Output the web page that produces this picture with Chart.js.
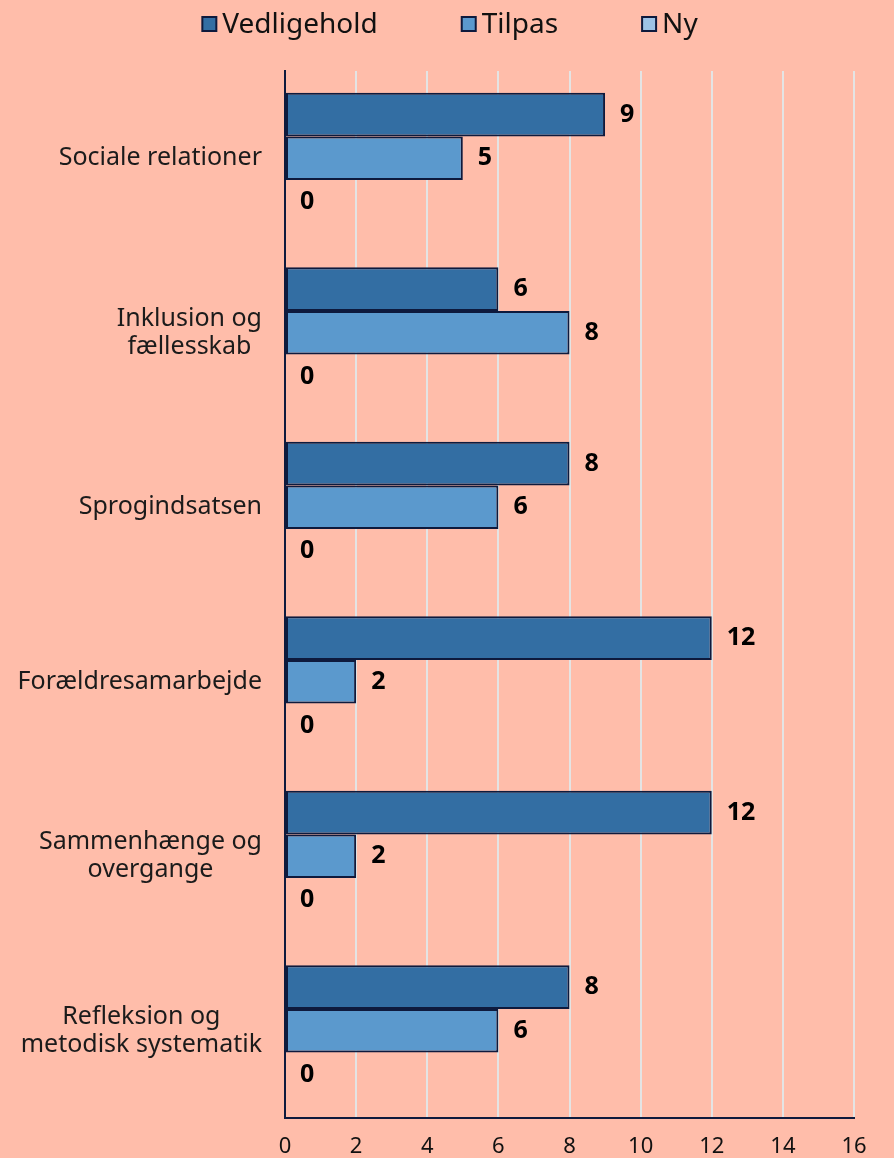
<!DOCTYPE html>
<html>
<head>
<meta charset="utf-8">
<script src="https://cdn.jsdelivr.net/npm/chart.js@4.4.0/dist/chart.umd.min.js"></script>
<style>
  html, body { margin: 0; padding: 0; background: #FFBDAA; }
  #wrap { width: 894px; height: 1158px; }
</style>
</head>
<body>
<div id="wrap"><canvas id="chart" width="894" height="1158"></canvas></div>
<script>
const categories = [
  ["Sociale relationer"],
  ["Inklusion og", "fællesskab"],
  ["Sprogindsatsen"],
  ["Forældresamarbejde"],
  ["Sammenhænge og", "overgange"],
  ["Refleksion og", "metodisk systematik"]
]
const vedligehold = [9, 6, 8, 12, 12, 8]
const tilpas = [5, 8, 6, 2, 2, 6]
const ny = [0, 0, 0, 0, 0, 0]
const xTicks = [0, 2, 4, 6, 8, 10, 12, 14, 16]

const FONT = "'Noto Sans', Lato, sans-serif"
const EDGE = "#0E1A3D"

// category labels: lines centred on each other, block right aligned (like the original)
const catLabels = {
  id: "catLabels",
  afterDraw(c) {
    const ctx = c.ctx
    const y = c.scales.y
    ctx.save()
    ctx.font = "25px " + FONT
    ctx.fillStyle = "#1b1b1b"
    ctx.textAlign = "center"
    ctx.textBaseline = "middle"
    const lh = 28
    categories.forEach((lines, i) => {
      const cy = y.getPixelForValue(i)
      const w = Math.max(...lines.map(l => ctx.measureText(l).width))
      const cx = 262 - w / 2
      lines.forEach((l, k) => {
        ctx.fillText(l, cx, cy + (k - (lines.length - 1) / 2) * lh)
      })
    })
    ctx.restore()
  }
}

// legend drawn by hand so the row can sit close to the top
const legendRow = {
  id: "legendRow",
  afterDraw(c) {
    const ctx = c.ctx
    ctx.save()
    ctx.font = "28px " + FONT
    ctx.textBaseline = "middle"
    ctx.textAlign = "left"
    const box = 14, gapText = 6, gapItem = 84, cy = 24
    const items = c.data.datasets.map(ds => ({ ds, w: ctx.measureText(ds.label).width }))
    let total = items.reduce((s, it) => s + box + gapText + it.w, 0) + gapItem * (items.length - 1)
    let x = c.width / 2 + 3 - total / 2
    items.forEach(it => {
      ctx.fillStyle = it.ds.backgroundColor
      ctx.fillRect(x, cy - box / 2, box, box)
      ctx.lineWidth = 2
      ctx.strokeStyle = EDGE
      ctx.strokeRect(x, cy - box / 2, box, box)
      ctx.fillStyle = "#111"
      ctx.fillText(it.ds.label, x + box + gapText, cy + 1)
      x += box + gapText + it.w + gapItem
    })
    ctx.restore()
  }
}

const valueLabels = {
  id: "valueLabels",
  afterDatasetsDraw(c) {
    const ctx = c.ctx
    ctx.save()
    ctx.font = "bold 25px " + FONT
    ctx.fillStyle = "#000"
    ctx.textAlign = "left"
    ctx.textBaseline = "middle"
    c.data.datasets.forEach((ds, di) => {
      c.getDatasetMeta(di).data.forEach((bar, i) => {
        ctx.fillText(ds.data[i], bar.x + 15, bar.y)
      })
    })
    ctx.restore()
  }
}

new Chart(document.getElementById("chart"), {
  type: "bar",
  data: {
    labels: categories.map(l => l.join(" ")),
    datasets: [
      { label: "Vedligehold", data: vedligehold, backgroundColor: "#336EA3", borderColor: EDGE, borderWidth: 2, borderSkipped: false },
      { label: "Tilpas", data: tilpas, backgroundColor: "#5B99CD", borderColor: EDGE, borderWidth: 2, borderSkipped: false },
      { label: "Ny", data: ny, backgroundColor: "#9DC3E6", borderColor: EDGE, borderWidth: 2, borderSkipped: false }
    ]
  },
  options: {
    indexAxis: "y",
    responsive: false,
    animation: false,
    layout: { padding: { left: 0, right: 40, top: 71, bottom: 0 } },
    datasets: { bar: { categoryPercentage: 0.75, barPercentage: 1 } },
    plugins: {
      legend: { display: false },
      tooltip: { enabled: false }
    },
    scales: {
      x: {
        min: 0,
        max: 16,
        afterBuildTicks: s => { s.ticks = xTicks.map(v => ({ value: v })) },
        grid: { color: "#E4E4E4", lineWidth: 2, drawTicks: false },
        border: { color: EDGE, width: 2 },
        ticks: { font: { family: FONT, size: 22 }, color: "#111", padding: 16 },
        afterFit: s => { s.height = 40 }
      },
      y: {
        grid: { display: false },
        border: { color: EDGE, width: 2 },
        ticks: { display: false },
        afterFit: s => { s.width = 285 }
      }
    }
  },
  plugins: [catLabels, legendRow, valueLabels]
})
</script>
</body>
</html>
